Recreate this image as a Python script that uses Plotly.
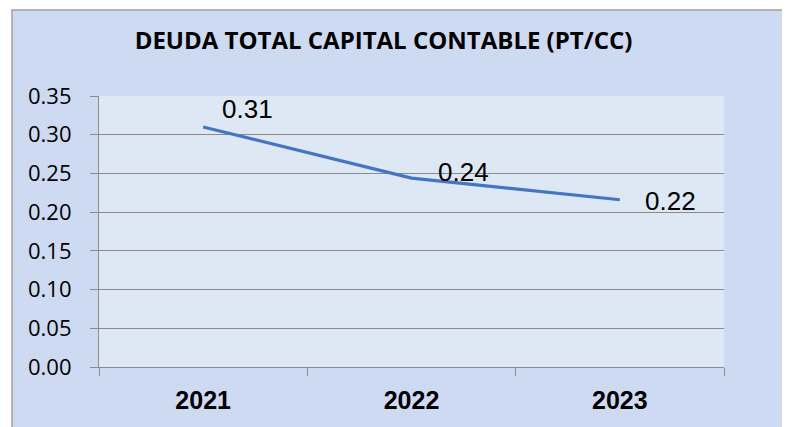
import plotly.graph_objects as go

# ---- data ----
years = ["2021", "2022", "2023"]
ratio = [0.31, 0.244, 0.216]
label_text = ["0.31", "0.24", "0.22"]
y_ticks = [0.00, 0.05, 0.10, 0.15, 0.20, 0.25, 0.30, 0.35]
title_text = "DEUDA TOTAL CAPITAL CONTABLE (PT/CC)"

# label offsets (style)
label_dx = [44, 52, 51]
label_dy = [18, 6, -1]

OFF = 8  # page body margin
W, H = 790, 427
L, R, T, B = 99 - OFF, 66 + OFF, 96 - OFF, 60 + OFF
pw, ph = W - L - R, H - T - B

fig = go.Figure()
fig.add_trace(go.Scatter(
    x=years, y=ratio, mode="lines",
    line=dict(color="#4674c4", width=3.2),
    hoverinfo="skip", showlegend=False,
))

annotations = []
for i, (yv, t, dx, dy) in enumerate(zip(ratio, label_text, label_dx, label_dy)):
    annotations.append(dict(
        x=i, y=yv, xref="x", yref="y", text=t, showarrow=False,
        xanchor="center", yanchor="middle", xshift=dx, yshift=dy,
        font=dict(family="Liberation Sans, Arial", size=26, color="#000000"),
    ))

frame_l, frame_r, frame_t = 12 - OFF, 785 - OFF, 10 - OFF
shapes = [
    # outer chart frame
    dict(type="rect", xref="paper", yref="paper", layer="below",
         x0=(frame_l - L) / pw, x1=(frame_r - L) / pw,
         y0=(H - T - 460) / ph, y1=(H - B - frame_t) / ph,
         fillcolor="#cedaf2", line=dict(color="#a0a0a0", width=1.5)),
    # plot area fill
    dict(type="rect", xref="paper", yref="paper", layer="below",
         x0=0, x1=1, y0=0, y1=1,
         fillcolor="#dde8f4", line=dict(width=0)),
]

fig.update_layout(
    width=W, height=H,
    margin=dict(l=L, r=R, t=T, b=B),
    paper_bgcolor="#ffffff",
    plot_bgcolor="rgba(0,0,0,0)",
    title=dict(text="<b>" + title_text + "</b>", x=(383.5 - OFF) / W, xanchor="center",
               xref="container", y=1 - (41 - OFF) / H, yanchor="middle", yref="container",
               font=dict(family="Open Sans", size=24, color="#000000")),
    xaxis=dict(
        type="category", range=[-0.5, 2.5],
        showgrid=False, showline=True, linecolor="#8c8c8c", linewidth=1.2,
        ticks="outside", tickson="boundaries", ticklen=8, tickcolor="#8c8c8c",
        tickfont=dict(family="Liberation Sans, Arial", size=25, color="#000000", weight="bold"),
        ticklabelstandoff=11,
    ),
    yaxis=dict(
        range=[0, 0.35], tickvals=y_ticks, tickformat=".2f",
        showgrid=True, gridcolor="#8a8a8a", gridwidth=1,
        showline=True, linecolor="#8c8c8c", linewidth=1.2,
        ticks="outside", ticklen=8, tickcolor="#8c8c8c",
        tickfont=dict(family="Open Sans", size=22, color="#000000"),
        ticklabelstandoff=14, zeroline=False,
    ),
    annotations=annotations,
    shapes=shapes,
)

fig.write_html("out.html")
